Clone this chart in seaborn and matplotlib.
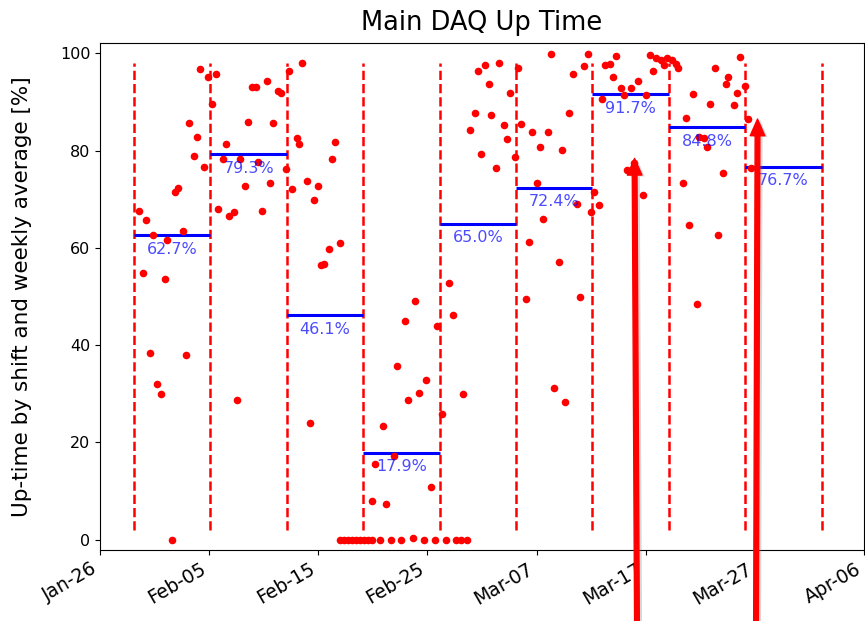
import numpy as np
import pandas as pd
import seaborn as sns
import matplotlib
matplotlib.use('Agg')
from matplotlib import pyplot as plt
from matplotlib import dates as mdates
from matplotlib import patheffects as pe

start = pd.Timestamp('2019-01-26')

# shift times (days after Jan-26) and up-time per shift [%]
shift_day = [
    3.61, 3.92, 4.22, 4.59, 4.89, 5.20, 5.60, 5.94, 6.17, 6.63,
    6.88, 7.18, 7.64, 7.89, 8.19, 8.62, 8.87, 9.17, 9.57, 9.94,
    10.30, 10.61, 10.85, 11.31, 11.56, 11.86, 12.29, 12.57, 12.84, 13.30,
    13.58, 13.94, 14.28, 14.52, 14.83, 15.29, 15.60, 15.84, 16.27, 16.61,
    17.04, 17.28, 17.59, 18.01, 18.28, 18.53, 18.96, 19.24, 19.57, 19.94,
    20.25, 20.49, 20.94, 21.26, 21.56, 21.95,
    22.02, 22.38, 22.75, 23.11, 23.48, 23.84, 24.20, 24.57, 24.93,
    24.95, 25.23, 25.69, 25.94, 26.24, 26.67, 26.94, 27.22, 27.61, 27.92,
    28.19, 28.69, 28.90, 29.20, 29.72, 29.88, 30.34, 30.73, 30.89, 31.38,
    31.72, 31.95, 32.32, 32.66, 33.12, 33.30, 33.64,
    33.92, 34.34, 34.61, 34.89, 35.32, 35.62, 35.87, 36.33, 36.58, 37.00,
    37.31, 37.61, 38.01, 38.30, 38.60, 39.02, 39.29, 39.61, 40.03, 40.30,
    40.58, 41.01, 41.28, 41.59, 42.02, 42.29, 42.60, 43.00, 43.30, 43.73,
    43.97, 44.34, 44.71, 44.95, 45.29, 45.72, 46.03, 46.24, 46.72, 47.04,
    47.28, 47.71, 48.01, 48.26, 48.69, 48.97, 49.27, 49.72, 50.00, 50.39,
    50.70, 50.92, 51.38, 51.68, 51.99, 52.45, 52.75, 52.96, 53.39, 53.67,
    53.97, 54.38, 54.68, 54.89, 55.35, 55.66, 55.93, 56.35, 56.63, 57.08,
    57.34, 57.57, 58.07, 58.35, 58.65, 59.06, 59.36, 59.63,
]
uptime = [
    67.6, 54.9, 65.7, 38.3, 62.6, 31.9, 29.9, 53.6, 61.6, 0.0,
    71.4, 72.3, 63.5, 37.9, 85.6, 78.8, 82.9, 96.7, 76.6, 95.1,
    89.7, 95.7, 68.0, 78.2, 81.3, 66.6, 67.3, 28.7, 78.2, 72.8,
    85.9, 93.1, 93.1, 77.6, 67.6, 94.4, 73.4, 85.6, 92.2, 91.9,
    76.2, 96.4, 72.1, 82.7, 81.3, 98.0, 73.7, 23.9, 69.8, 72.7,
    56.4, 56.6, 59.7, 78.2, 81.7, 60.9,
    0.0, 0.0, 0.0, 0.0, 0.0, 0.0, 0.0, 0.0, 0.0,
    7.9, 15.6, 0.0, 23.3, 7.3, 0.0, 17.1, 35.7, 0.0, 44.9,
    28.7, 0.3, 49.1, 30.2, 0.0, 32.8, 10.8, 0.0, 44.0, 25.8,
    0.0, 52.8, 46.2, 0.0, 0.0, 29.9, 0.0,
    84.2, 87.8, 96.4, 79.4, 97.7, 93.7, 87.4, 76.5, 98.0, 85.2,
    82.3, 91.9, 78.7, 97.0, 85.4, 49.4, 61.2, 83.9, 73.4, 80.7,
    66.0, 83.9, 99.9, 31.2, 57.1, 80.1, 28.3, 87.8, 95.7, 69.1,
    49.8, 97.4, 99.9, 67.3, 71.4, 68.9, 90.6, 97.6, 97.9, 95.1,
    99.5, 92.8, 91.5, 76.0, 92.8, 77.4, 94.4, 70.8, 91.5, 99.6,
    96.4, 99.0, 98.6, 97.6, 99.0, 98.6, 97.9, 97.1, 73.3, 86.7,
    64.8, 91.6, 48.4, 82.9, 82.7, 80.7, 89.7, 97.0, 62.6, 75.3,
    93.8, 95.1, 89.4, 91.9, 99.2, 93.2, 86.5, 76.5,
]

# weekly boundaries and averages
week_starts = pd.date_range('2019-01-29 03:00', periods=10, freq='7D')
weekly_avg = [62.7, 79.3, 46.1, 17.9, 65.0, 72.4, 91.7, 84.8, 76.7]

# arrows added on top of the plot: (days after Jan-26, up-time)
arrow_tips = [(48.98, 78.4), (60.25, 86.5)]
arrow_tails = [0.7364, 0.874]  # figure fraction x at bottom edge

tick_dates = pd.date_range(start, periods=8, freq='10D')

df = pd.DataFrame({'time': start + pd.to_timedelta(shift_day, unit='D'),
                   'uptime': uptime})

fig = plt.figure(figsize=(8.65, 6.21), dpi=100)
ax = fig.add_axes([0.1156, 0.1151, 0.8832, 0.8149])

sns.scatterplot(data=df, x='time', y='uptime', color='red', s=30,
                linewidth=0, ax=ax, zorder=3)

ax.vlines(week_starts, 2, 98, colors='red', linestyles='dashed', lw=1.8)
ax.hlines(weekly_avg, week_starts[:-1], week_starts[1:], colors='blue', lw=2.2)
for i, avg in enumerate(weekly_avg):
    mid = week_starts[i] + (week_starts[i + 1] - week_starts[i]) / 2
    ax.text(mid, avg - 1.4, f'{avg:.1f}%', ha='center', va='top',
            color='blue', alpha=0.7, fontsize=11.5)

ax.set_xlim(start, start + pd.Timedelta(days=70))
ax.set_ylim(-2.06, 102.05)
ax.set_xticks(tick_dates)
ax.xaxis.set_major_formatter(mdates.DateFormatter('%b-%d'))
ax.tick_params(axis='y', labelsize=11.5)
ax.tick_params(axis='x', labelsize=13.5)
plt.setp(ax.get_xticklabels(), rotation=30, ha='right')
ax.set_xlabel('')
ax.set_ylabel('Up-time by shift and weekly average [%]', fontsize=15.5)
ax.yaxis.set_label_coords(-0.089, 0.5)
ax.set_title('Main DAQ Up Time', fontsize=18.5, pad=10)

for (d, v), tail in zip(arrow_tips, arrow_tails):
    ann = ax.annotate('', xy=(start + pd.Timedelta(days=d), v),
                      xytext=(tail, -0.01), textcoords='figure fraction',
                      arrowprops=dict(facecolor='red', edgecolor='red', width=3.4,
                                      headwidth=10.5, headlength=12, shrink=0),
                      annotation_clip=False)
    ann.arrow_patch.set_path_effects([pe.SimplePatchShadow(offset=(2, -1), shadow_rgbFace='gray', alpha=0.3),
                                      pe.Normal()])

fig.savefig('out.png', dpi=100)
